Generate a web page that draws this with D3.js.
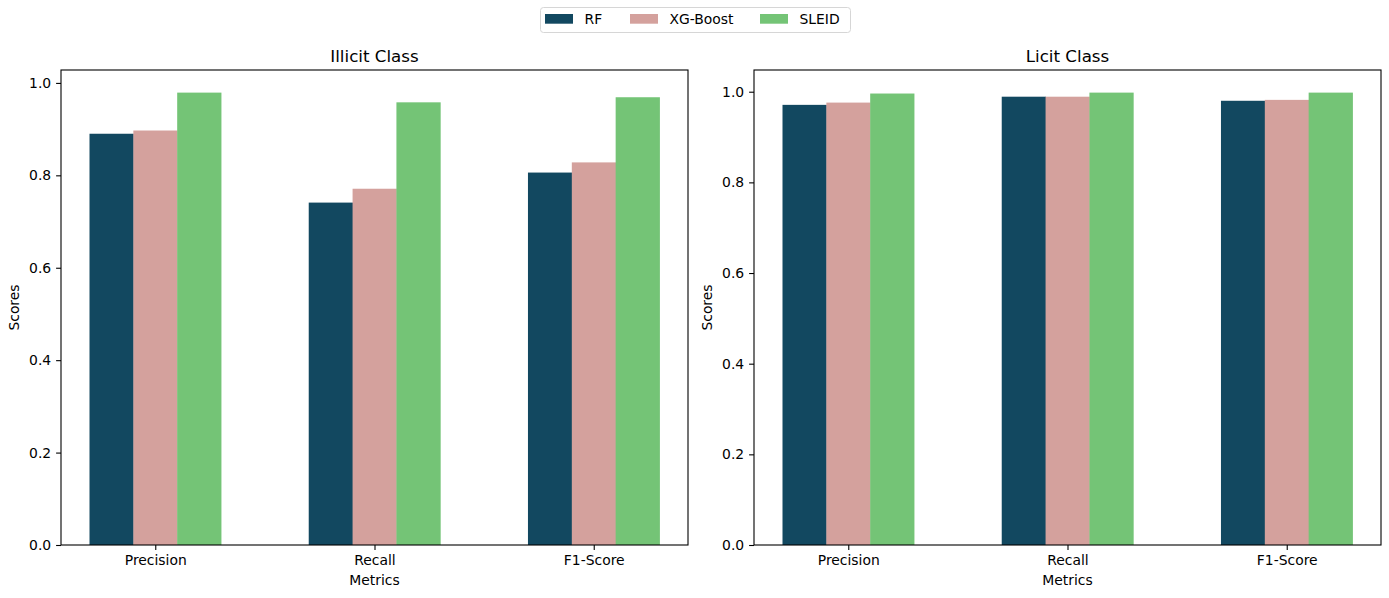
<!DOCTYPE html>
<html>
<head>
<meta charset="utf-8">
<script src="https://cdn.jsdelivr.net/npm/d3@7"></script>
<style>
	body { margin: 0; background: #fff; }
	svg text { font-family: "DejaVu Sans", sans-serif; fill: #000; }
</style>
</head>
<body>
<div id="chart"></div>
<script>
// data
var metrics = ["Precision", "Recall", "F1-Score"]
var models = ["RF", "XG-Boost", "SLEID"]
var colours = ["#124860", "#d4a19d", "#74c476"]
var illicitRF = [0.890, 0.741, 0.806]
var illicitXG = [0.897, 0.771, 0.828]
var illicitSLEID = [0.979, 0.958, 0.969]
var licitRF = [0.971, 0.989, 0.980]
var licitXG = [0.976, 0.989, 0.982]
var licitSLEID = [0.996, 0.998, 0.998]
var yTicks = [0, 0.2, 0.4, 0.6, 0.8, 1.0]

var panels = [
	{title: "Illicit Class", series: [illicitRF, illicitXG, illicitSLEID], left: 61, right: 688},
	{title: "Licit Class", series: [licitRF, licitXG, licitSLEID], left: 754, right: 1381}
]

var fullWidth = 1389, fullHeight = 598
var plotTop = 70, plotBottom = 545
var barWidth = 0.2

var svg = d3.select("#chart").append("svg")
	.attr("width", fullWidth)
	.attr("height", fullHeight)

panels.forEach(panel => {
	let maxVal = d3.max(panel.series, s => d3.max(s))
	// matplotlib style auto margin: 5% headroom
	let yScale = d3.scaleLinear()
		.domain([0, maxVal * 1.05])
		.range([plotBottom, plotTop])
	let lo = -1.5 * barWidth, hi = metrics.length - 1 + 1.5 * barWidth
	let pad = (hi - lo) * 0.05
	let xScale = d3.scaleLinear()
		.domain([lo - pad, hi + pad])
		.range([panel.left, panel.right])

	let g = svg.append("g")

	panel.series.forEach((values, si) => {
		g.selectAll(".bar" + si)
			.data(values)
			.enter()
			.append("rect")
			.attr("x", (d, i) => xScale(i + (si - 1) * barWidth - barWidth / 2))
			.attr("width", xScale(barWidth) - xScale(0) + 0.4)
			.attr("y", d => yScale(d))
			.attr("height", d => yScale(0) - yScale(d))
			.attr("fill", colours[si])
	})

	let yAxis = d3.axisLeft(yScale)
		.tickValues(yTicks)
		.tickFormat(d3.format(".1f"))
		.tickSize(4.9)
		.tickPadding(4.9)
	let ya = g.append("g")
		.attr("transform", "translate(" + panel.left + ",0)")
		.call(yAxis)

	let xAxis = d3.axisBottom(xScale)
		.tickValues(d3.range(metrics.length))
		.tickFormat(i => metrics[i])
		.tickSize(4.9)
		.tickPadding(4.9)
	let xa = g.append("g")
		.attr("transform", "translate(0," + plotBottom + ")")
		.call(xAxis)

	;[ya, xa].forEach(a => {
		a.select(".domain").remove()
		a.selectAll("line").attr("stroke", "#000").attr("stroke-width", 1.1)
		a.selectAll("text").style("font-size", "13.9px").attr("fill", "#000")
	})

	// frame
	g.append("rect")
		.attr("x", panel.left)
		.attr("y", plotTop)
		.attr("width", panel.right - panel.left)
		.attr("height", plotBottom - plotTop)
		.attr("fill", "none")
		.attr("stroke", "#000")
		.attr("stroke-width", 1.1)

	g.append("text")
		.attr("x", (panel.left + panel.right) / 2)
		.attr("y", plotTop - 8)
		.attr("text-anchor", "middle")
		.style("font-size", "16.7px")
		.text(panel.title)

	g.append("text")
		.attr("x", (panel.left + panel.right) / 2)
		.attr("y", 585)
		.attr("text-anchor", "middle")
		.style("font-size", "13.9px")
		.text("Metrics")

	g.append("text")
		.attr("transform", "translate(" + (panel.left - 42) + "," + ((plotTop + plotBottom) / 2) + ") rotate(-90)")
		.attr("text-anchor", "middle")
		.style("font-size", "13.9px")
		.text("Scores")
})

// legend
let legend = svg.append("g")
legend.append("rect")
	.attr("x", 540.5)
	.attr("y", 7.5)
	.attr("width", 310)
	.attr("height", 25)
	.attr("rx", 3)
	.attr("fill", "#fff")
	.attr("stroke", "#d6d6d6")
	.attr("stroke-width", 1)
let legendX = [545, 630, 760]
models.forEach((m, i) => {
	legend.append("rect")
		.attr("x", legendX[i])
		.attr("y", 14)
		.attr("width", 28)
		.attr("height", 9.7)
		.attr("fill", colours[i])
	legend.append("text")
		.attr("x", legendX[i] + 39.5)
		.attr("y", 23.5)
		.style("font-size", "13.9px")
		.text(m)
})
</script>
</body>
</html>
